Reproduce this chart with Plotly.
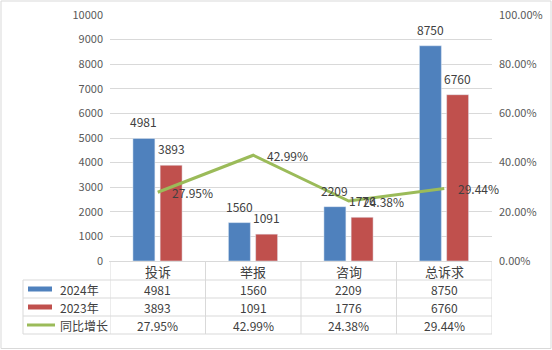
import plotly.graph_objects as go

categories = ["投诉", "举报", "咨询", "总诉求"]
series_names = ["2024年", "2023年", "同比增长"]
v2024 = [4981, 1560, 2209, 8750]
v2023 = [3893, 1091, 1776, 6760]
growth_pct = [27.95, 42.99, 24.38, 29.44]
left_ticks = list(range(0, 10001, 1000))

BLUE = "#4F81BD"
RED = "#C0504D"
GREEN = "#9BBB59"
GRID = "#D9D9D9"
TXT = "#404040"
AX = "#595959"
FONT = "Noto Sans CJK SC"

W, H = 552, 350
L, R, T, B = 110, 60, 15, 89
PW, PH = W - L - R, H - T - B


def px2x(px):
    return (px - L) / PW


def px2y(py):
    return (H - B - py) / PH


BW = 0.23
OFF_B = -0.26
OFF_R = 0.025

fig = go.Figure()
fig.add_trace(go.Bar(x=categories, y=v2024, name=series_names[0], marker_color=BLUE,
                     width=BW, offset=OFF_B))
fig.add_trace(go.Bar(x=categories, y=v2023, name=series_names[1], marker_color=RED,
                     width=BW, offset=OFF_R))
fig.add_trace(go.Scatter(x=categories, y=[g / 100 for g in growth_pct], name=series_names[2],
                         mode="lines", line=dict(color=GREEN, width=3), yaxis="y2"))

ann = []
# bar value labels
for i, (a, b) in enumerate(zip(v2024, v2023)):
    ann.append(dict(x=i + OFF_B + BW / 2, y=a, xref="x", yref="y", text=str(a), showarrow=False,
                    yanchor="bottom", yshift=6, font=dict(size=12, color=TXT, family=FONT)))
    ann.append(dict(x=i + OFF_R + BW / 2, y=b, xref="x", yref="y", text=str(b), showarrow=False,
                    yanchor="bottom", yshift=6, font=dict(size=12, color=TXT, family=FONT)))
# line labels
for i, g in enumerate(growth_pct):
    ann.append(dict(x=i, y=g / 100, xref="x", yref="y2", text=f"{g:.2f}%", showarrow=False,
                    xanchor="left", yanchor="middle", xshift=12,
                    font=dict(size=12, color=TXT, family=FONT)))

# data table
row_edges = [262, 280, 298, 316, 334]
row_centers = [(row_edges[k] + row_edges[k + 1]) / 2 for k in range(4)]
rows = [categories, [str(v) for v in v2024], [str(v) for v in v2023],
        [f"{g:.2f}%" for g in growth_pct]]
for r, vals in enumerate(rows):
    for i, t in enumerate(vals):
        ann.append(dict(x=i, y=px2y(row_centers[r]), xref="x", yref="paper", text=t,
                        xanchor="center", yanchor="middle", showarrow=False,
                        font=dict(size=12 if r else 13, color=TXT, family=FONT)))
for k, nm in enumerate(series_names):
    ann.append(dict(x=px2x(58), y=px2y(row_centers[k + 1]), xref="paper", yref="paper", text=nm,
                    xanchor="left", yanchor="middle", showarrow=False,
                    font=dict(size=12, color=TXT, family=FONT)))

shapes = []
lc = dict(color=GRID, width=1)
# horizontal lines
shapes.append(dict(type="line", xref="paper", yref="paper", x0=px2x(109), x1=px2x(492),
                   y0=px2y(261.5), y1=px2y(261.5), line=lc))
for py in row_edges[1:]:
    shapes.append(dict(type="line", xref="paper", yref="paper", x0=px2x(23), x1=px2x(492),
                       y0=px2y(py), y1=px2y(py), line=lc))
# vertical lines
for xc in [-0.5, 0.5, 1.5, 2.5, 3.5]:
    shapes.append(dict(type="line", xref="x", yref="paper", x0=xc, x1=xc,
                       y0=px2y(261.5), y1=px2y(334), line=lc))
shapes.append(dict(type="line", xref="paper", yref="paper", x0=px2x(23), x1=px2x(23),
                   y0=px2y(280), y1=px2y(334), line=lc))
# legend keys
shapes.append(dict(type="rect", xref="paper", yref="paper", x0=px2x(28), x1=px2x(52),
                   y0=px2y(286.5), y1=px2y(291.5), fillcolor=BLUE, line=dict(width=0)))
shapes.append(dict(type="rect", xref="paper", yref="paper", x0=px2x(28), x1=px2x(52),
                   y0=px2y(304.5), y1=px2y(309.5), fillcolor=RED, line=dict(width=0)))
shapes.append(dict(type="line", xref="paper", yref="paper", x0=px2x(27), x1=px2x(55),
                   y0=px2y(325), y1=px2y(325), line=dict(color=GREEN, width=3)))
# outer frame
shapes.append(dict(type="rect", xref="paper", yref="paper", x0=px2x(1), x1=px2x(551),
                   y0=px2y(1), y1=px2y(348.5), line=dict(color=GRID, width=1), layer="below"))

fig.update_layout(
    width=W, height=H, margin=dict(l=L, r=R, t=T, b=B, autoexpand=False),
    paper_bgcolor="white", plot_bgcolor="white",
    barmode="overlay", showlegend=False,
    font=dict(family=FONT, color=AX, size=11),
    xaxis=dict(type="category", range=[-0.5, 3.5], showticklabels=False, showgrid=False,
               zeroline=False, showline=False, automargin=False),
    yaxis=dict(range=[0, 10000], tickvals=left_ticks, ticktext=[str(v) for v in left_ticks],
               showgrid=True, gridcolor=GRID, automargin=False,
               zeroline=False, ticks="", ticklabelstandoff=6,
               tickfont=dict(size=11, color=AX, family=FONT)),
    yaxis2=dict(range=[0, 1], overlaying="y", side="right", tickformat=".2%", dtick=0.2,
                showgrid=False, zeroline=False, ticks="", ticklabelstandoff=6, automargin=False,
                tickfont=dict(size=11, color=AX, family=FONT)),
    annotations=ann, shapes=shapes,
)

fig.write_html("out.html")
